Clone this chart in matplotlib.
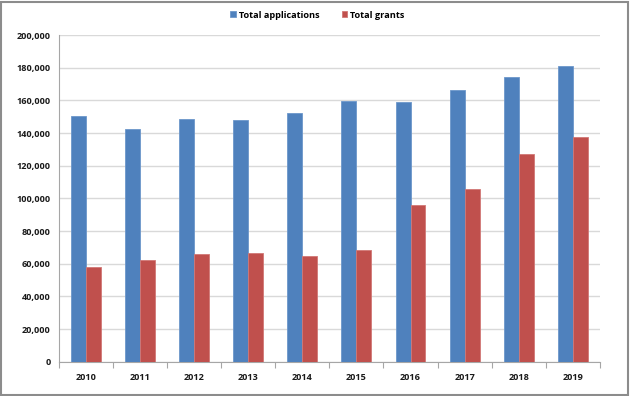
import numpy as np
import matplotlib
matplotlib.use("Agg")
import matplotlib.pyplot as plt
from matplotlib.patches import Rectangle
from matplotlib.ticker import FuncFormatter, MultipleLocator

years = ["2010", "2011", "2012", "2013", "2014",
         "2015", "2016", "2017", "2018", "2019"]
applications = [150600, 142500, 148600, 147800, 152300,
                159800, 159000, 166300, 174300, 181000]
grants = [58000, 62100, 65800, 66500, 64500,
          68200, 95700, 105500, 127300, 137700]

BLUE = "#4F81BD"
RED = "#C0504D"
GRID = "#D9D9D9"

plt.rcParams["font.family"] = ["Open Sans", "DejaVu Sans"]

fig = plt.figure(figsize=(6.30, 3.96), dpi=100)
ax = fig.add_axes([0.0937, 0.0866, 0.8583, 0.825])

x = np.arange(len(years))
w = 0.277
ax.bar(x - w / 2, applications, w, color=BLUE, edgecolor="#6C97CB",
       linewidth=0.6, label="Total applications", zorder=3)
ax.bar(x + w / 2, grants, w, color=RED, edgecolor="#D17876",
       linewidth=0.6, label="Total grants", zorder=3)

ax.set_xlim(-0.5, len(years) - 0.5)
ax.set_ylim(0, 200000)
ax.yaxis.set_major_locator(MultipleLocator(20000))
ax.yaxis.set_major_formatter(FuncFormatter(lambda v, _: f"{int(v):,}"))
ax.grid(axis="y", color=GRID, linewidth=1.0, zorder=0)

ax.set_xticks(x)
ax.set_xticklabels(years)
ax.set_xticks(np.arange(len(years) + 1) - 0.5, minor=True)
ax.tick_params(axis="x", which="major", length=0, pad=8)
ax.tick_params(axis="x", which="minor", length=4, color="#A6A6A6", width=0.8)
ax.tick_params(axis="y", length=0, pad=6)
for lbl in ax.get_xticklabels() + ax.get_yticklabels():
    lbl.set_fontsize(6.6)
    lbl.set_fontweight("bold")
    lbl.set_color("#1A1A1A")

for side in ("top", "right"):
    ax.spines[side].set_visible(False)
ax.spines["left"].set_color("#A6A6A6")
ax.spines["bottom"].set_color("#A6A6A6")
ax.spines["left"].set_linewidth(0.8)
ax.spines["bottom"].set_linewidth(0.8)

leg = fig.legend(loc="center", bbox_to_anchor=(0.504, 0.962), ncol=2,
                 frameon=False, handlelength=0.6, handleheight=0.6,
                 handletextpad=0.35, columnspacing=2.4,
                 prop={"size": 6.6, "weight": "bold"})

# outer chart frame
fig.patches.append(Rectangle((0.002, 0.003), 0.995, 0.993,
                             transform=fig.transFigure, fill=False,
                             edgecolor="#8C8C8C", linewidth=1.5))

fig.savefig("out.png", dpi=100)
